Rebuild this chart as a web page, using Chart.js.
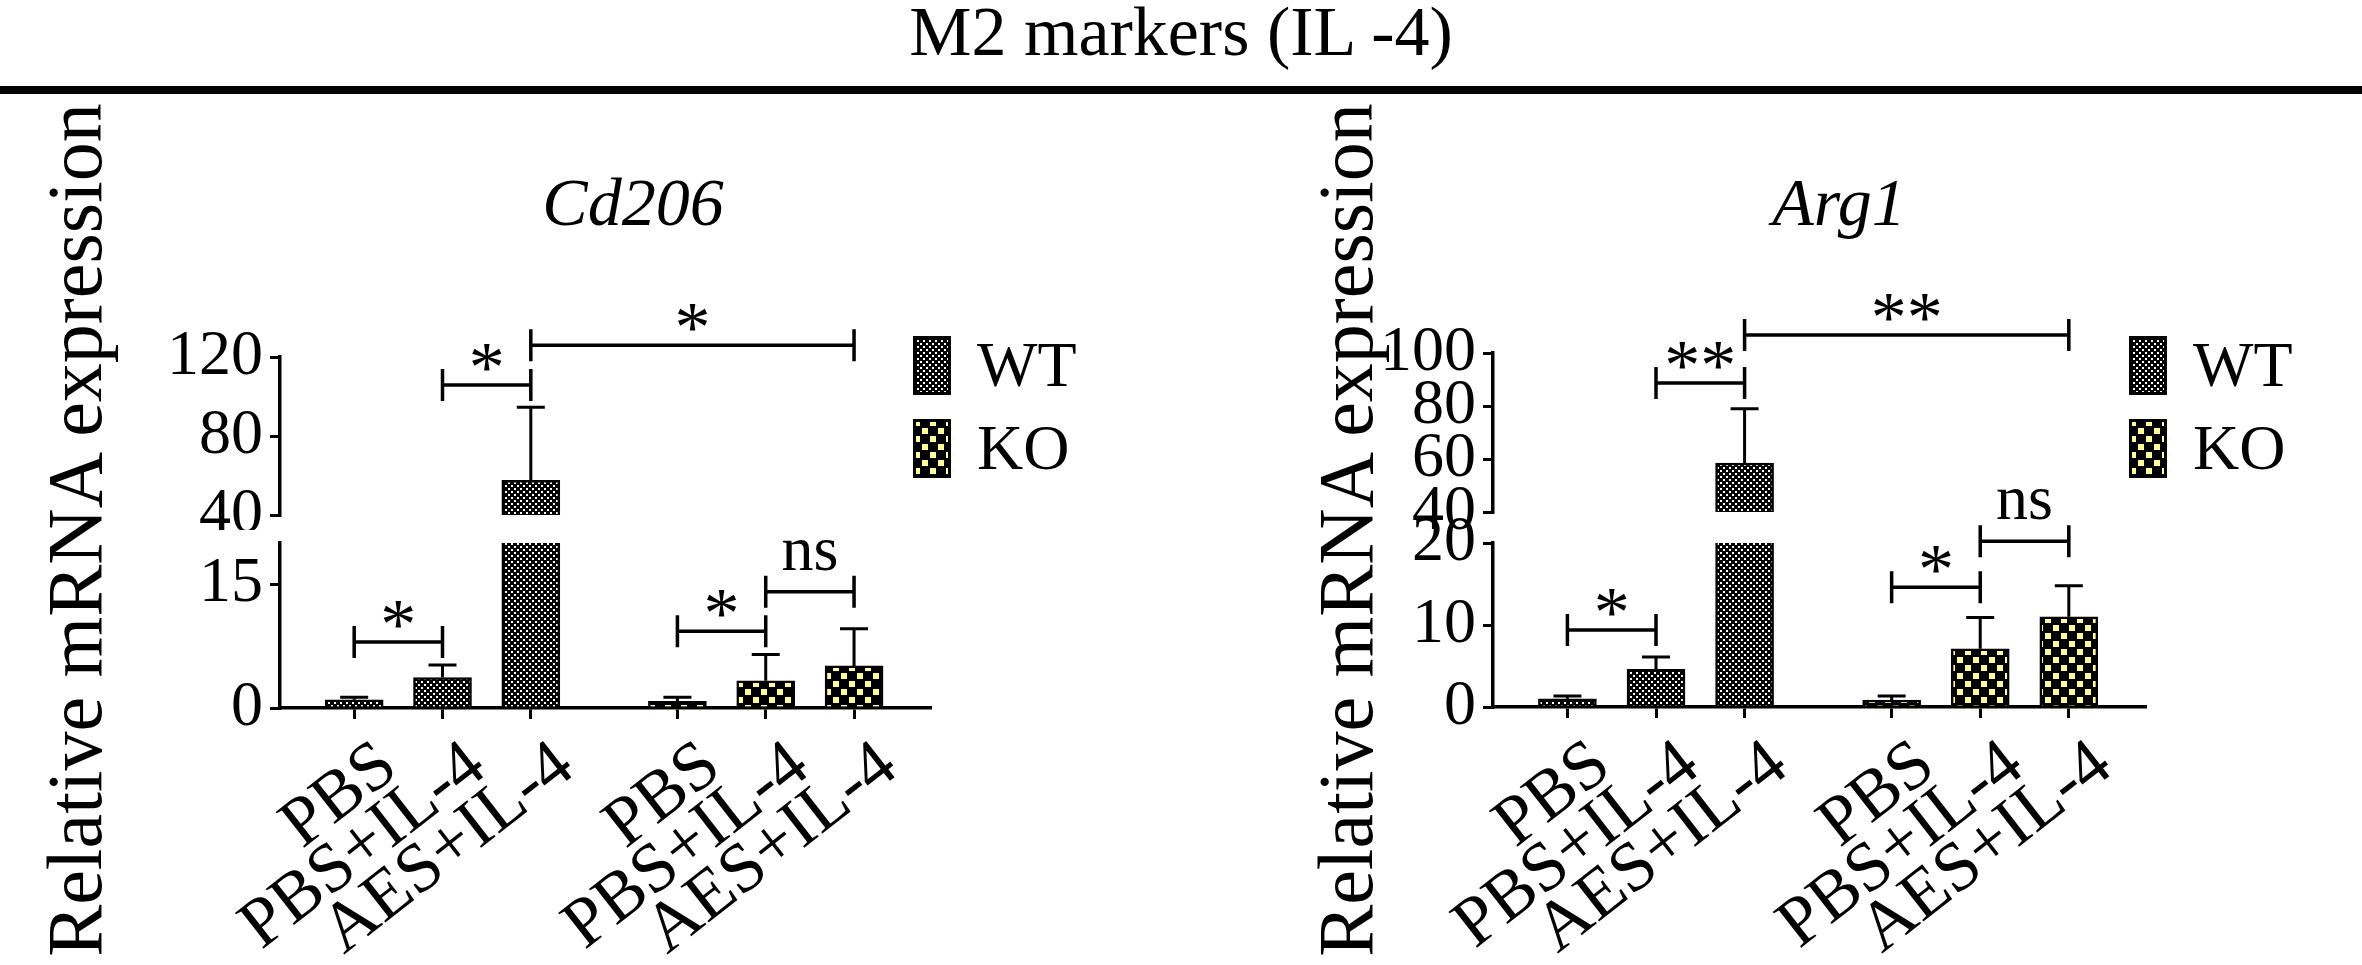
<!DOCTYPE html>
<html>
<head>
<meta charset="utf-8">
<script src="https://cdn.jsdelivr.net/npm/chart.js@4.4.0/dist/chart.umd.min.js"></script>
<style>
  html, body { margin: 0; padding: 0; background: #fff; }
  #page { position: relative; width: 2362px; height: 965px; overflow: hidden;
          font-family: "Liberation Serif", "Times New Roman", serif; color: #000; }
  #page canvas { position: absolute; }
  .t { position: absolute; white-space: nowrap; line-height: 1; }
  .ylab { position: absolute; white-space: nowrap; line-height: 1; font-size: 78px;
          transform: translate(-50%, -50%) rotate(-90deg); }
</style>
</head>
<body>
<div id="page">
  <div class="t" style="left:0;width:2362px;text-align:center;top:-3px;font-size:70px;">M2 markers (IL -4)</div>
  <div style="position:absolute;left:0;top:86px;width:2362px;height:8px;background:#000;"></div>

  <div class="ylab" style="left:75px;top:530px;">Relative mRNA expression</div>
  <div class="ylab" style="left:1346px;top:530px;">Relative mRNA expression</div>

  <div class="t" style="left:633px;top:168px;font-size:68px;font-style:italic;transform:translateX(-50%);">Cd206</div>
  <div class="t" style="left:1839px;top:168px;font-size:68px;font-style:italic;transform:translateX(-50%);">Arg1</div>
</div>

<script>
// ---- data ----
const conditions = ['PBS', 'PBS+IL-4', 'AES+IL-4'];
const genotypes = ['WT', 'KO'];

const cd206WT = [1.0, 3.7, 57.5];
const cd206WTErr = [0.3, 1.5, 37];
const cd206KO = [0.8, 3.3, 5.1];
const cd206KOErr = [0.5, 3.2, 4.5];
const cd206UpperTicks = [40, 80, 120];
const cd206LowerTicks = [0, 15];
// [genotype, condition, genotype, condition, level, label, segment]
const cd206Sig = [
  [0, 0, 0, 1, 8.0, '*', 'lower'],
  [1, 0, 1, 1, 9.3, '*', 'lower'],
  [1, 1, 1, 2, 14.1, 'ns', 'lower'],
  [0, 1, 0, 2, 105.8, '*', 'upper'],
  [0, 2, 1, 2, 126, '*', 'upper']
];

const arg1WT = [1.0, 4.6, 58.5];
const arg1WTErr = [0.35, 1.5, 20.5];
const arg1KO = [0.85, 7.1, 11.0];
const arg1KOErr = [0.5, 3.8, 3.8];
const arg1UpperTicks = [40, 60, 80, 100];
const arg1LowerTicks = [0, 10, 20];
const arg1Sig = [
  [0, 0, 0, 1, 9.4, '*', 'lower'],
  [1, 0, 1, 1, 14.6, '*', 'lower'],
  [1, 1, 1, 2, 20.2, 'ns', 'lower'],
  [0, 1, 0, 2, 88.7, '**', 'upper'],
  [0, 2, 1, 2, 106.8, '**', 'upper']
];

// ---- layout ----
const GROUP_STEP = 3.66;   // distance between first bars of WT and KO groups
const X_MIN = -0.84;
const X_MAX = 6.52;
const FONT = '"Liberation Serif", "Times New Roman", serif';

const xPos = (g, i) => g * GROUP_STEP + i;

function tilePattern(kind) {
  const c = document.createElement('canvas');
  const g = c.getContext('2d');
  if (kind === 'WT') {
    c.width = 6; c.height = 6;
    g.fillStyle = '#000'; g.fillRect(0, 0, 6, 6);
    g.fillStyle = '#fff';
    g.fillRect(1, 1, 2, 2); g.fillRect(4, 4, 2, 2);
  } else {
    c.width = 16; c.height = 16;
    g.fillStyle = '#000'; g.fillRect(0, 0, 16, 16);
    g.fillStyle = '#ffff9c';
    g.fillRect(1, 1, 6, 6); g.fillRect(9, 9, 6, 6);
  }
  return g.createPattern(c, 'repeat');
}
const patterns = [tilePattern('WT'), tilePattern('KO')];

const page = document.getElementById('page');
function addCanvas(left, top, w, h) {
  const c = document.createElement('canvas');
  c.width = w; c.height = h;
  c.style.left = left + 'px'; c.style.top = top + 'px';
  c.style.width = w + 'px'; c.style.height = h + 'px';
  page.appendChild(c);
  return c;
}

const errorBars = {
  id: 'errorBars',
  afterDatasetsDraw(chart) {
    const { ctx, chartArea: a, scales: { y } } = chart;
    ctx.save();
    ctx.beginPath();
    ctx.rect(a.left - 30, a.top - 3, a.right - a.left + 60, a.bottom - a.top + 6);
    ctx.clip();
    ctx.strokeStyle = '#000';
    ctx.lineWidth = 3;
    chart.data.datasets.forEach((ds, di) => {
      chart.getDatasetMeta(di).data.forEach((bar, i) => {
        const v = ds.data[i].y;
        if (v < y.min || v > y.max) return;
        const top = y.getPixelForValue(v + ds.err[i]);
        ctx.beginPath();
        ctx.moveTo(bar.x, bar.y);
        ctx.lineTo(bar.x, top);
        ctx.moveTo(bar.x - 14, top);
        ctx.lineTo(bar.x + 14, top);
        ctx.stroke();
      });
    });
    ctx.restore();
  }
};

function bracketPlugin(sig, part) {
  return {
    id: 'brackets',
    afterDraw(chart) {
      const { ctx, scales: { x, y } } = chart;
      ctx.save();
      ctx.strokeStyle = '#000';
      ctx.fillStyle = '#000';
      ctx.lineWidth = 3.5;
      ctx.textAlign = 'center';
      ctx.textBaseline = 'alphabetic';
      sig.filter(s => s[6] === part).forEach(([g1, i1, g2, i2, level, label]) => {
        const x1 = x.getPixelForValue(xPos(g1, i1));
        const x2 = x.getPixelForValue(xPos(g2, i2));
        const yy = y.getPixelForValue(level);
        ctx.beginPath();
        ctx.moveTo(x1, yy); ctx.lineTo(x2, yy);
        ctx.moveTo(x1, yy - 16); ctx.lineTo(x1, yy + 16);
        ctx.moveTo(x2, yy - 16); ctx.lineTo(x2, yy + 16);
        ctx.stroke();
        if (label === 'ns') {
          ctx.font = '64px ' + FONT;
          ctx.fillText(label, (x1 + x2) / 2, yy - 22);
        } else {
          ctx.font = '72px ' + FONT;
          ctx.fillText(label, (x1 + x2) / 2, yy + 6);
        }
      });
      ctx.restore();
    }
  };
}

function segmentChart(panel, part) {
  const upper = part === 'upper';
  const seg = upper ? panel.upper : panel.lower;
  const canvasTop = upper ? 250 : 440;
  const canvasH = upper ? 280 : 525;
  const width = 960;
  const canvas = addCanvas(panel.left, canvasTop, width, canvasH);
  const xTicks = [];
  genotypes.forEach((g, gi) => conditions.forEach((c, ci) => xTicks.push(xPos(gi, ci))));
  const xLabels = [];
  genotypes.forEach(() => conditions.forEach(c => xLabels.push(c)));

  const datasets = genotypes.map((g, gi) => ({
    label: g,
    data: panel.values[gi].map((v, i) => ({ x: xPos(gi, i), y: v })),
    err: panel.errors[gi],
    backgroundColor: patterns[gi],
    borderColor: '#000',
    borderWidth: 2.5,
    borderSkipped: 'start',
    barThickness: 58,
    grouped: false,
    clip: 0
  }));

  return new Chart(canvas, {
    type: 'bar',
    data: { datasets },
    options: {
      responsive: false,
      animation: false,
      devicePixelRatio: 1,
      layout: {
        padding: {
          left: 0,
          top: seg.top - canvasTop,
          right: panel.left + width - panel.right,
          bottom: upper ? canvasTop + canvasH - seg.bottom : 0
        }
      },
      plugins: { legend: { display: false }, tooltip: { enabled: false } },
      scales: {
        x: {
          type: 'linear',
          min: X_MIN, max: X_MAX,
          offset: false,
          display: !upper,
          afterBuildTicks: axis => { axis.ticks = xTicks.map(v => ({ value: v })); },
          afterFit: axis => {
            axis.height = upper ? 0 : canvasTop + canvasH - seg.bottom;
            axis.paddingLeft = 0; axis.paddingRight = 0;
          },
          ticks: {
            autoSkip: false,
            minRotation: 38, maxRotation: 38,
            padding: 6,
            labelOffset: 35,
            color: '#000',
            font: { family: FONT, size: 70 },
            callback: (v, i) => xLabels[i]
          },
          grid: { display: true, offset: false, drawOnChartArea: false, drawTicks: true,
                  tickLength: 11, tickWidth: 3, lineWidth: 3, color: '#000' },
          border: { display: true, color: '#000', width: 3.5 }
        },
        y: {
          min: seg.min, max: seg.max,
          afterBuildTicks: axis => { axis.ticks = seg.ticks.map(v => ({ value: v })); },
          afterFit: axis => {
            axis.width = panel.axisX - panel.left;
            axis.paddingTop = 0; axis.paddingBottom = 0;
          },
          ticks: {
            autoSkip: false,
            padding: 7,
            color: '#000',
            font: { family: FONT, size: 64 }
          },
          grid: { display: true, offset: false, drawOnChartArea: false, drawTicks: true,
                  tickLength: 10, tickWidth: 3, lineWidth: 3, color: '#000' },
          border: { display: true, color: '#000', width: 3.5 }
        }
      }
    },
    plugins: [errorBars, bracketPlugin(panel.sig, part)]
  });
}

function legend(left) {
  genotypes.forEach((g, gi) => {
    const top = gi === 0 ? 336 : 419;
    const c = addCanvas(left, top, 38, 59);
    const ctx = c.getContext('2d');
    ctx.fillStyle = patterns[gi];
    ctx.fillRect(0, 0, 38, 59);
    ctx.strokeStyle = '#000';
    ctx.lineWidth = 3;
    ctx.strokeRect(1.5, 1.5, 35, 56);
    const t = document.createElement('div');
    t.className = 't';
    t.textContent = g;
    t.style.left = (left + 64) + 'px';
    t.style.top = (top - 3) + 'px';
    t.style.fontSize = '64px';
    page.appendChild(t);
  });
}

const panels = [
  {
    left: 0, axisX: 280, right: 930,
    values: [cd206WT, cd206KO], errors: [cd206WTErr, cd206KOErr], sig: cd206Sig,
    upper: { min: 40, max: 120, ticks: cd206UpperTicks, top: 357, bottom: 515 },
    lower: { min: 0, max: 20, ticks: cd206LowerTicks, top: 543, bottom: 708 },
    legendX: 913
  },
  {
    left: 1212, axisX: 1493, right: 2145,
    values: [arg1WT, arg1KO], errors: [arg1WTErr, arg1KOErr], sig: arg1Sig,
    upper: { min: 40, max: 100, ticks: arg1UpperTicks, top: 353, bottom: 512 },
    lower: { min: 0, max: 20, ticks: arg1LowerTicks, top: 543, bottom: 707 },
    legendX: 2129
  }
];

panels.forEach(p => {
  segmentChart(p, 'lower');
  segmentChart(p, 'upper');
  legend(p.legendX);
});
</script>
</body>
</html>
